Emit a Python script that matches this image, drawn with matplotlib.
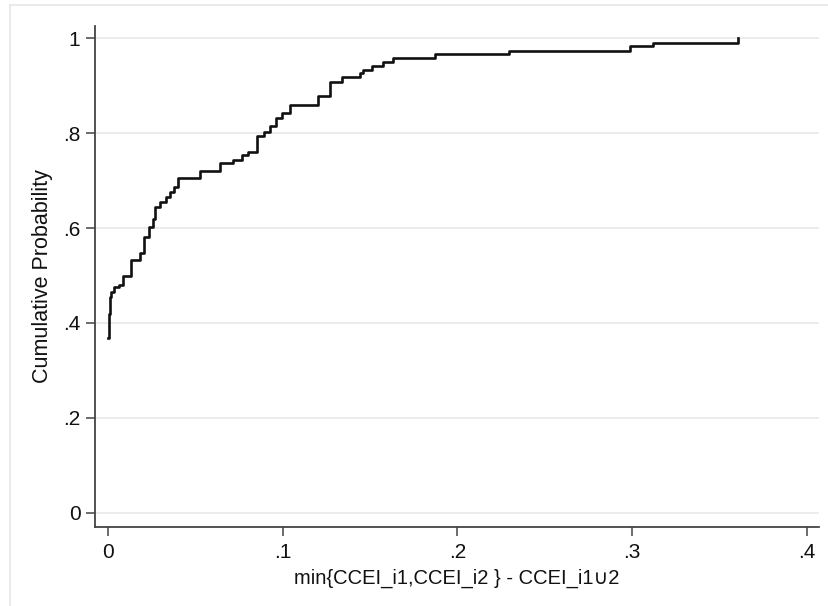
import matplotlib
matplotlib.use("Agg")
import matplotlib.pyplot as plt
from matplotlib.lines import Line2D

# step positions of the empirical CDF and the level reached at each one
gap = [0, 0.0003, 0.0006, 0.0009, 0.0012, 0.002, 0.0034, 0.0065, 0.0088, 0.013,
       0.0183, 0.0205, 0.0235, 0.0255, 0.027, 0.0297, 0.033, 0.0354, 0.0377, 0.0402,
       0.0526, 0.064, 0.0716, 0.0764, 0.080, 0.085, 0.089, 0.0926, 0.0964, 0.0996,
       0.1044, 0.120, 0.1269, 0.1337, 0.144, 0.1459, 0.1513, 0.1573, 0.163, 0.187,
       0.2297, 0.2987, 0.3116, 0.3608]
cum_prob = [0.368, 0.39, 0.42, 0.44, 0.455, 0.466, 0.476, 0.481, 0.499, 0.533,
            0.547, 0.582, 0.603, 0.62, 0.644, 0.655, 0.666, 0.676, 0.687, 0.705,
            0.721, 0.736, 0.743, 0.754, 0.761, 0.794, 0.802, 0.815, 0.832, 0.843,
            0.859, 0.877, 0.908, 0.917, 0.926, 0.933, 0.941, 0.949, 0.957, 0.966,
            0.973, 0.983, 0.990, 1.0]

xticks = [0, 0.1, 0.2, 0.3, 0.4]
xtick_labels = ["0", ".1", ".2", ".3", ".4"]
yticks = [0, 0.2, 0.4, 0.6, 0.8, 1.0]
ytick_labels = ["0", ".2", ".4", ".6", ".8", "1"]

plt.rcParams["font.family"] = ["Liberation Sans", "DejaVu Sans"]

W, H = 829, 606
fig = plt.figure(figsize=(W / 100, H / 100), dpi=100)
fig.patch.set_facecolor("white")

# faint outer frame of the graph region
fig.add_artist(Line2D([10 / W, 10 / W], [0, 1 - 5 / H], transform=fig.transFigure,
                      color="#e6e6e6", lw=1.2))
fig.add_artist(Line2D([10 / W, 1], [1 - 5 / H, 1 - 5 / H], transform=fig.transFigure,
                      color="#e6e6e6", lw=1.2))

ax = fig.add_axes([95 / W, (H - 527) / H, (819 - 95) / W, (527 - 26) / H])
ax.set_facecolor("white")

ax.step(gap, cum_prob, where="post", color="#111111", lw=1.9, zorder=3)

ax.set_xlim(-0.00744, 0.40687)
ax.set_ylim(-0.0295, 1.0253)

ax.set_xticks(xticks)
ax.set_xticklabels(xtick_labels)
ax.set_yticks(yticks)
ax.set_yticklabels(ytick_labels)

ax.yaxis.grid(True, color="#ececec", lw=1.5)
ax.set_axisbelow(True)

for side in ["top", "right"]:
    ax.spines[side].set_visible(False)
for side in ["left", "bottom"]:
    ax.spines[side].set_color("#444444")
    ax.spines[side].set_linewidth(1.3)

ax.tick_params(axis="both", direction="out", length=6.5, width=1.1, color="#444444",
               labelsize=15, labelcolor="#111111")
ax.tick_params(axis="y", pad=4)
ax.tick_params(axis="x", pad=5)

ax.set_xlabel("min{CCEI_i1,CCEI_i2 } - CCEI_i1\u222a2", fontsize=14.5, color="#111111",
              labelpad=5)
ax.set_ylabel("Cumulative Probability", fontsize=15.5, color="#111111", labelpad=7)

fig.savefig("out.png", dpi=100, facecolor="white")
